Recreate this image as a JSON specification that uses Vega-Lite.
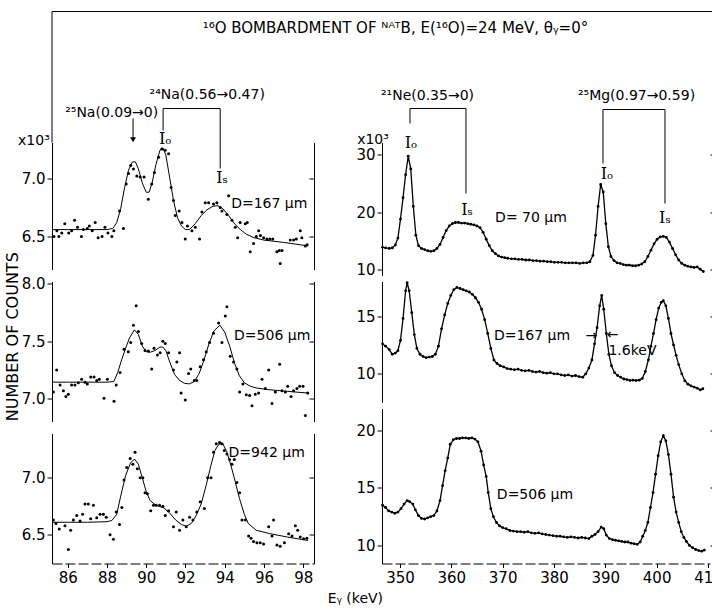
{
"$schema": "https://vega.github.io/schema/vega-lite/v6.json",
"padding": {"left": 5, "top": 10.5, "right": 0, "bottom": 0},
"config": {"view": {"stroke": null}, "axis": {"labelFont": "DejaVu Sans", "labelFontSize": 15, "labelColor": "black", "domainColor": "black", "tickColor": "black", "domainWidth": 1, "tickWidth": 1, "grid": false, "title": null, "labelPadding": 2}},
"datasets": {
"l1fit": [{"E":85.25,"v":6.56},{"E":86,"v":6.56},{"E":87,"v":6.56},{"E":88,"v":6.56},{"E":88.3,"v":6.57},{"E":88.5,"v":6.62},{"E":88.7,"v":6.74},{"E":88.9,"v":6.92},{"E":89.1,"v":7.07},{"E":89.3,"v":7.14},{"E":89.45,"v":7.14},{"E":89.6,"v":7.08},{"E":89.8,"v":6.96},{"E":90.0,"v":6.88},{"E":90.15,"v":6.88},{"E":90.3,"v":6.96},{"E":90.5,"v":7.12},{"E":90.7,"v":7.24},{"E":90.85,"v":7.26},{"E":91.0,"v":7.2},{"E":91.2,"v":7.0},{"E":91.4,"v":6.8},{"E":91.6,"v":6.66},{"E":91.8,"v":6.59},{"E":92.0,"v":6.56},{"E":92.2,"v":6.56},{"E":92.5,"v":6.61},{"E":92.8,"v":6.68},{"E":93.1,"v":6.73},{"E":93.4,"v":6.76},{"E":93.65,"v":6.765},{"E":93.9,"v":6.74},{"E":94.2,"v":6.68},{"E":94.5,"v":6.61},{"E":94.8,"v":6.56},{"E":95.1,"v":6.52},{"E":95.5,"v":6.49},{"E":96,"v":6.47},{"E":97,"v":6.45},{"E":98.25,"v":6.42}],
"l1pts": [{"E":85.3,"v":6.5},{"E":85.45,"v":6.55},{"E":85.55,"v":6.5},{"E":85.7,"v":6.53},{"E":85.85,"v":6.61},{"E":86.05,"v":6.53},{"E":86.2,"v":6.55},{"E":86.35,"v":6.64},{"E":86.5,"v":6.58},{"E":86.7,"v":6.5},{"E":86.8,"v":6.56},{"E":87.0,"v":6.57},{"E":87.1,"v":6.59},{"E":87.25,"v":6.55},{"E":87.4,"v":6.62},{"E":87.55,"v":6.49},{"E":87.75,"v":6.5},{"E":87.9,"v":6.58},{"E":88.05,"v":6.53},{"E":88.25,"v":6.5},{"E":88.35,"v":6.55},{"E":88.64,"v":6.72},{"E":88.84,"v":6.57},{"E":88.98,"v":6.95},{"E":89.1,"v":7.04},{"E":89.21,"v":7.11},{"E":89.35,"v":7.08},{"E":89.52,"v":7.02},{"E":89.69,"v":7.01},{"E":89.89,"v":7.01},{"E":90.11,"v":6.82},{"E":90.28,"v":6.95},{"E":90.42,"v":7.05},{"E":90.63,"v":7.18},{"E":90.8,"v":7.25},{"E":90.97,"v":7.24},{"E":91.14,"v":7.21},{"E":91.27,"v":6.92},{"E":91.39,"v":6.81},{"E":91.48,"v":6.68},{"E":91.68,"v":6.72},{"E":91.82,"v":6.62},{"E":91.99,"v":6.48},{"E":92.1,"v":6.59},{"E":92.33,"v":6.55},{"E":92.5,"v":6.58},{"E":92.72,"v":6.48},{"E":92.84,"v":6.71},{"E":93.01,"v":6.79},{"E":93.18,"v":6.79},{"E":93.43,"v":6.78},{"E":93.6,"v":6.79},{"E":93.77,"v":6.75},{"E":93.86,"v":6.72},{"E":94.11,"v":6.69},{"E":94.2,"v":6.85},{"E":94.37,"v":6.64},{"E":94.54,"v":6.58},{"E":94.66,"v":6.49},{"E":94.79,"v":6.62},{"E":95.05,"v":6.61},{"E":95.15,"v":6.62},{"E":95.3,"v":6.37},{"E":95.47,"v":6.44},{"E":95.61,"v":6.5},{"E":95.73,"v":6.55},{"E":95.82,"v":6.51},{"E":95.98,"v":6.49},{"E":96.15,"v":6.48},{"E":96.3,"v":6.48},{"E":96.45,"v":6.48},{"E":96.66,"v":6.37},{"E":96.78,"v":6.38},{"E":96.83,"v":6.27},{"E":96.92,"v":6.38},{"E":97.34,"v":6.47},{"E":97.51,"v":6.47},{"E":97.65,"v":6.48},{"E":97.85,"v":6.55},{"E":97.93,"v":6.49},{"E":98.11,"v":6.42},{"E":98.2,"v":6.43}],
"l2fit": [{"E":85.25,"v":7.145},{"E":86,"v":7.145},{"E":87,"v":7.145},{"E":88,"v":7.145},{"E":88.35,"v":7.15},{"E":88.55,"v":7.23},{"E":88.75,"v":7.34},{"E":88.95,"v":7.44},{"E":89.15,"v":7.53},{"E":89.4,"v":7.6},{"E":89.6,"v":7.56},{"E":89.8,"v":7.46},{"E":90.0,"v":7.41},{"E":90.2,"v":7.405},{"E":90.45,"v":7.42},{"E":90.7,"v":7.45},{"E":90.85,"v":7.45},{"E":91.0,"v":7.42},{"E":91.2,"v":7.32},{"E":91.45,"v":7.21},{"E":91.7,"v":7.16},{"E":91.95,"v":7.135},{"E":92.2,"v":7.13},{"E":92.45,"v":7.15},{"E":92.7,"v":7.22},{"E":92.95,"v":7.34},{"E":93.2,"v":7.48},{"E":93.45,"v":7.59},{"E":93.75,"v":7.64},{"E":94.0,"v":7.58},{"E":94.25,"v":7.46},{"E":94.5,"v":7.31},{"E":94.75,"v":7.2},{"E":95.0,"v":7.14},{"E":95.3,"v":7.11},{"E":95.6,"v":7.095},{"E":96.2,"v":7.08},{"E":97.2,"v":7.065},{"E":98.25,"v":7.05}],
"l2pts": [{"E":85.27,"v":7.06},{"E":85.44,"v":7.25},{"E":85.61,"v":7.12},{"E":85.78,"v":7.07},{"E":85.91,"v":7.02},{"E":86.03,"v":7.04},{"E":86.2,"v":7.12},{"E":86.37,"v":7.12},{"E":86.54,"v":7.14},{"E":86.71,"v":7.17},{"E":86.88,"v":7.145},{"E":87.0,"v":7.13},{"E":87.17,"v":7.19},{"E":87.34,"v":7.19},{"E":87.48,"v":7.16},{"E":87.61,"v":7.17},{"E":87.85,"v":7.006},{"E":88.02,"v":7.17},{"E":88.36,"v":6.98},{"E":88.47,"v":7.12},{"E":88.67,"v":7.23},{"E":88.87,"v":7.43},{"E":89.09,"v":7.41},{"E":89.21,"v":7.49},{"E":89.35,"v":7.64},{"E":89.49,"v":7.81},{"E":89.6,"v":7.586},{"E":89.77,"v":7.48},{"E":89.94,"v":7.42},{"E":90.11,"v":7.415},{"E":90.28,"v":7.26},{"E":90.4,"v":7.44},{"E":90.57,"v":7.38},{"E":90.71,"v":7.4},{"E":90.85,"v":7.5},{"E":90.97,"v":7.48},{"E":91.14,"v":7.4},{"E":91.39,"v":7.25},{"E":91.56,"v":7.32},{"E":91.7,"v":7.4},{"E":91.78,"v":7.05},{"E":91.99,"v":6.99},{"E":92.16,"v":7.22},{"E":92.27,"v":7.26},{"E":92.45,"v":7.16},{"E":92.58,"v":7.16},{"E":92.75,"v":7.28},{"E":92.92,"v":7.34},{"E":93.06,"v":7.41},{"E":93.23,"v":7.49},{"E":93.43,"v":7.57},{"E":93.69,"v":7.66},{"E":93.86,"v":7.49},{"E":94.03,"v":7.72},{"E":94.11,"v":7.8},{"E":94.28,"v":7.37},{"E":94.45,"v":7.32},{"E":94.62,"v":7.26},{"E":94.76,"v":7.06},{"E":94.93,"v":7.13},{"E":95.1,"v":7.035},{"E":95.27,"v":7.03},{"E":95.39,"v":6.94},{"E":95.56,"v":7.04},{"E":95.73,"v":7.05},{"E":95.9,"v":7.17},{"E":96.07,"v":7.09},{"E":96.24,"v":7.25},{"E":96.41,"v":6.96},{"E":96.58,"v":7.06},{"E":96.8,"v":7.3},{"E":96.92,"v":7.07},{"E":97.09,"v":7.06},{"E":97.21,"v":7.11},{"E":97.38,"v":7.02},{"E":97.51,"v":7.07},{"E":97.68,"v":7.09},{"E":97.82,"v":7.11},{"E":97.99,"v":7.11},{"E":98.11,"v":6.855},{"E":98.23,"v":7.05}],
"l3fit": [{"E":85.25,"v":6.61},{"E":86,"v":6.61},{"E":87,"v":6.61},{"E":88,"v":6.615},{"E":88.25,"v":6.625},{"E":88.5,"v":6.68},{"E":88.7,"v":6.84},{"E":88.95,"v":7.02},{"E":89.2,"v":7.13},{"E":89.4,"v":7.165},{"E":89.6,"v":7.12},{"E":89.8,"v":7.0},{"E":90.0,"v":6.88},{"E":90.2,"v":6.8},{"E":90.5,"v":6.76},{"E":90.9,"v":6.735},{"E":91.2,"v":6.69},{"E":91.5,"v":6.63},{"E":91.8,"v":6.59},{"E":92.05,"v":6.575},{"E":92.3,"v":6.6},{"E":92.55,"v":6.67},{"E":92.8,"v":6.77},{"E":93.05,"v":6.93},{"E":93.3,"v":7.11},{"E":93.5,"v":7.24},{"E":93.7,"v":7.295},{"E":93.9,"v":7.3},{"E":94.1,"v":7.23},{"E":94.3,"v":7.12},{"E":94.5,"v":6.99},{"E":94.75,"v":6.82},{"E":95.0,"v":6.68},{"E":95.2,"v":6.6},{"E":95.6,"v":6.54},{"E":96.3,"v":6.51},{"E":97.2,"v":6.48},{"E":98.25,"v":6.45}],
"l3pts": [{"E":85.27,"v":6.63},{"E":85.4,"v":6.6},{"E":85.57,"v":6.55},{"E":85.86,"v":6.58},{"E":86.03,"v":6.37},{"E":86.15,"v":6.54},{"E":86.29,"v":6.63},{"E":86.46,"v":6.67},{"E":86.63,"v":6.62},{"E":86.76,"v":6.68},{"E":86.88,"v":6.77},{"E":87.05,"v":6.77},{"E":87.17,"v":6.64},{"E":87.31,"v":6.76},{"E":87.48,"v":6.65},{"E":87.65,"v":6.68},{"E":87.82,"v":6.68},{"E":87.96,"v":6.655},{"E":88.16,"v":6.5},{"E":88.33,"v":6.46},{"E":88.47,"v":6.7},{"E":88.64,"v":6.59},{"E":88.76,"v":6.74},{"E":88.87,"v":6.98},{"E":89.01,"v":7.09},{"E":89.18,"v":7.17},{"E":89.32,"v":7.12},{"E":89.43,"v":7.225},{"E":89.55,"v":7.08},{"E":89.69,"v":7.0},{"E":89.83,"v":7.0},{"E":89.94,"v":6.87},{"E":90.06,"v":6.86},{"E":90.23,"v":6.71},{"E":90.37,"v":6.76},{"E":90.51,"v":6.76},{"E":90.68,"v":6.76},{"E":90.85,"v":6.75},{"E":90.97,"v":6.67},{"E":91.14,"v":6.71},{"E":91.39,"v":6.57},{"E":91.53,"v":6.7},{"E":91.7,"v":6.54},{"E":91.87,"v":6.63},{"E":92.04,"v":6.57},{"E":92.21,"v":6.655},{"E":92.38,"v":6.63},{"E":92.58,"v":6.7},{"E":92.75,"v":6.79},{"E":92.96,"v":6.73},{"E":93.13,"v":7.0},{"E":93.3,"v":7.0},{"E":93.43,"v":7.225},{"E":93.57,"v":7.3},{"E":93.74,"v":7.31},{"E":93.86,"v":7.3},{"E":93.98,"v":7.24},{"E":94.11,"v":7.21},{"E":94.25,"v":7.16},{"E":94.37,"v":7.12},{"E":94.49,"v":7.16},{"E":94.62,"v":6.96},{"E":94.76,"v":6.87},{"E":94.88,"v":6.63},{"E":95.05,"v":6.63},{"E":95.22,"v":6.49},{"E":95.34,"v":6.47},{"E":95.47,"v":6.44},{"E":95.64,"v":6.43},{"E":95.81,"v":6.43},{"E":95.98,"v":6.42},{"E":96.24,"v":6.57},{"E":96.41,"v":6.49},{"E":96.49,"v":6.63},{"E":96.66,"v":6.41},{"E":96.83,"v":6.4},{"E":97.04,"v":6.43},{"E":97.26,"v":6.51},{"E":97.43,"v":6.49},{"E":97.6,"v":6.58},{"E":97.72,"v":6.54},{"E":97.85,"v":6.48},{"E":98.02,"v":6.465},{"E":98.19,"v":6.47}],
"r1": [{"E":346.6,"v":13.9},{"E":347.2,"v":13.8},{"E":347.9,"v":13.7},{"E":348.5,"v":13.8},{"E":349.1,"v":14.3},{"E":349.6,"v":15.5},{"E":350.1,"v":18.8},{"E":350.6,"v":22.5},{"E":351.1,"v":26.5},{"E":351.6,"v":29.7},{"E":352.1,"v":27.5},{"E":352.6,"v":21.0},{"E":353.1,"v":16.0},{"E":353.6,"v":14.2},{"E":354.2,"v":13.7},{"E":354.8,"v":13.5},{"E":355.4,"v":13.3},{"E":356.0,"v":13.2},{"E":356.6,"v":13.3},{"E":357.2,"v":13.7},{"E":357.8,"v":14.4},{"E":358.4,"v":15.6},{"E":359.0,"v":16.8},{"E":359.6,"v":17.6},{"E":360.2,"v":18.0},{"E":360.8,"v":18.2},{"E":361.4,"v":18.2},{"E":362.0,"v":18.1},{"E":362.6,"v":18.1},{"E":363.2,"v":18.0},{"E":363.8,"v":17.9},{"E":364.4,"v":17.8},{"E":365.0,"v":17.6},{"E":365.6,"v":17.3},{"E":366.2,"v":16.5},{"E":366.8,"v":15.3},{"E":367.4,"v":14.2},{"E":368.0,"v":13.3},{"E":368.6,"v":12.8},{"E":369.2,"v":12.4},{"E":369.8,"v":12.2},{"E":370.4,"v":12.1},{"E":371.0,"v":12.0},{"E":371.7,"v":11.9},{"E":372.4,"v":11.9},{"E":373.1,"v":11.8},{"E":373.8,"v":11.8},{"E":374.5,"v":11.7},{"E":375.2,"v":11.7},{"E":375.9,"v":11.6},{"E":376.6,"v":11.6},{"E":377.3,"v":11.5},{"E":378.0,"v":11.5},{"E":378.7,"v":11.4},{"E":379.4,"v":11.4},{"E":380.1,"v":11.3},{"E":380.8,"v":11.3},{"E":381.5,"v":11.3},{"E":382.2,"v":11.2},{"E":382.9,"v":11.2},{"E":383.6,"v":11.2},{"E":384.3,"v":11.2},{"E":385.0,"v":11.1},{"E":385.7,"v":11.2},{"E":386.4,"v":11.2},{"E":387.0,"v":11.4},{"E":387.6,"v":12.5},{"E":388.1,"v":16.0},{"E":388.6,"v":21.0},{"E":389.1,"v":24.8},{"E":389.6,"v":23.5},{"E":390.1,"v":18.0},{"E":390.6,"v":14.0},{"E":391.1,"v":12.3},{"E":391.7,"v":11.6},{"E":392.3,"v":11.2},{"E":392.9,"v":11.1},{"E":393.5,"v":10.9},{"E":394.1,"v":10.8},{"E":394.7,"v":10.8},{"E":395.3,"v":10.7},{"E":395.9,"v":10.7},{"E":396.5,"v":10.8},{"E":397.1,"v":11.0},{"E":397.7,"v":11.4},{"E":398.3,"v":12.3},{"E":398.9,"v":13.4},{"E":399.5,"v":14.5},{"E":400.1,"v":15.3},{"E":400.7,"v":15.7},{"E":401.3,"v":15.8},{"E":401.9,"v":15.6},{"E":402.5,"v":14.8},{"E":403.1,"v":13.7},{"E":403.7,"v":12.6},{"E":404.3,"v":11.7},{"E":404.9,"v":11.1},{"E":405.5,"v":10.8},{"E":406.1,"v":10.6},{"E":406.7,"v":10.5},{"E":407.3,"v":10.4},{"E":407.9,"v":10.5},{"E":408.5,"v":10.1},{"E":409.1,"v":9.7}],
"r2": [{"E":346.6,"v":12.6},{"E":347.2,"v":12.4},{"E":347.9,"v":12.1},{"E":348.5,"v":11.7},{"E":349.1,"v":11.8},{"E":349.6,"v":12.0},{"E":350.1,"v":12.9},{"E":350.6,"v":14.8},{"E":351.1,"v":17.2},{"E":351.4,"v":17.9},{"E":351.8,"v":17.2},{"E":352.3,"v":15.3},{"E":352.8,"v":13.4},{"E":353.3,"v":12.2},{"E":353.9,"v":11.7},{"E":354.5,"v":11.5},{"E":355.1,"v":11.4},{"E":355.7,"v":11.45},{"E":356.3,"v":11.5},{"E":356.9,"v":11.7},{"E":357.5,"v":12.4},{"E":358.1,"v":13.9},{"E":358.7,"v":15.1},{"E":359.3,"v":16.1},{"E":359.9,"v":16.8},{"E":360.5,"v":17.3},{"E":361.1,"v":17.5},{"E":361.7,"v":17.4},{"E":362.3,"v":17.3},{"E":362.9,"v":17.2},{"E":363.5,"v":17.1},{"E":364.1,"v":16.9},{"E":364.7,"v":16.6},{"E":365.3,"v":16.2},{"E":365.9,"v":15.6},{"E":366.5,"v":14.7},{"E":367.1,"v":13.5},{"E":367.7,"v":12.2},{"E":368.3,"v":11.2},{"E":368.9,"v":10.9},{"E":369.5,"v":10.7},{"E":370.2,"v":10.6},{"E":370.9,"v":10.45},{"E":371.6,"v":10.4},{"E":372.3,"v":10.35},{"E":373.0,"v":10.4},{"E":373.7,"v":10.3},{"E":374.4,"v":10.25},{"E":375.1,"v":10.3},{"E":375.8,"v":10.2},{"E":376.5,"v":10.15},{"E":377.2,"v":10.2},{"E":377.9,"v":10.1},{"E":378.6,"v":10.05},{"E":379.3,"v":10.1},{"E":380.0,"v":10.0},{"E":380.7,"v":10.0},{"E":381.4,"v":9.9},{"E":382.1,"v":9.85},{"E":382.8,"v":9.9},{"E":383.5,"v":9.8},{"E":384.2,"v":9.85},{"E":384.9,"v":9.75},{"E":385.6,"v":9.7},{"E":386.2,"v":10.0},{"E":386.8,"v":10.5},{"E":387.4,"v":11.2},{"E":387.9,"v":12.6},{"E":388.4,"v":14.0},{"E":388.9,"v":15.9},{"E":389.3,"v":16.8},{"E":389.7,"v":15.6},{"E":390.2,"v":13.5},{"E":390.7,"v":11.7},{"E":391.2,"v":10.7},{"E":391.8,"v":10.1},{"E":392.4,"v":9.85},{"E":393.0,"v":9.7},{"E":393.6,"v":9.55},{"E":394.2,"v":9.5},{"E":394.8,"v":9.42},{"E":395.4,"v":9.45},{"E":396.0,"v":9.42},{"E":396.6,"v":9.45},{"E":397.2,"v":9.6},{"E":397.8,"v":10.2},{"E":398.4,"v":11.2},{"E":398.9,"v":12.4},{"E":399.4,"v":13.5},{"E":399.9,"v":14.7},{"E":400.4,"v":15.7},{"E":400.9,"v":16.2},{"E":401.3,"v":16.35},{"E":401.8,"v":15.9},{"E":402.3,"v":14.8},{"E":402.8,"v":13.5},{"E":403.3,"v":12.5},{"E":403.8,"v":11.6},{"E":404.3,"v":10.8},{"E":404.9,"v":10.0},{"E":405.5,"v":9.4},{"E":406.1,"v":9.1},{"E":406.7,"v":8.95},{"E":407.3,"v":8.85},{"E":407.9,"v":8.75},{"E":408.5,"v":8.6},{"E":409.0,"v":8.7}],
"r3": [{"E":346.6,"v":13.5},{"E":347.2,"v":13.3},{"E":347.8,"v":13.0},{"E":348.4,"v":12.9},{"E":349.0,"v":12.8},{"E":349.6,"v":12.9},{"E":350.2,"v":13.2},{"E":350.8,"v":13.6},{"E":351.4,"v":13.9},{"E":351.9,"v":13.8},{"E":352.5,"v":13.6},{"E":353.0,"v":13.1},{"E":353.6,"v":12.6},{"E":354.2,"v":12.35},{"E":354.8,"v":12.3},{"E":355.4,"v":12.4},{"E":356.0,"v":12.5},{"E":356.6,"v":12.6},{"E":357.2,"v":13.0},{"E":357.8,"v":13.9},{"E":358.3,"v":15.2},{"E":358.8,"v":16.5},{"E":359.3,"v":17.6},{"E":359.8,"v":18.8},{"E":360.4,"v":19.2},{"E":361.0,"v":19.3},{"E":361.6,"v":19.3},{"E":362.2,"v":19.35},{"E":362.8,"v":19.35},{"E":363.4,"v":19.3},{"E":364.0,"v":19.35},{"E":364.6,"v":19.25},{"E":365.2,"v":19.0},{"E":365.8,"v":18.2},{"E":366.3,"v":17.0},{"E":366.8,"v":16.0},{"E":367.2,"v":14.6},{"E":367.7,"v":13.2},{"E":368.2,"v":12.5},{"E":368.8,"v":12.0},{"E":369.4,"v":11.7},{"E":370.0,"v":11.55},{"E":370.7,"v":11.45},{"E":371.4,"v":11.3},{"E":372.1,"v":11.25},{"E":372.8,"v":11.2},{"E":373.5,"v":11.2},{"E":374.2,"v":11.15},{"E":374.9,"v":11.2},{"E":375.6,"v":11.1},{"E":376.3,"v":11.05},{"E":377.0,"v":11.1},{"E":377.7,"v":11.0},{"E":378.4,"v":10.95},{"E":379.1,"v":10.9},{"E":379.8,"v":10.85},{"E":380.5,"v":10.8},{"E":381.2,"v":10.8},{"E":381.9,"v":10.75},{"E":382.6,"v":10.7},{"E":383.3,"v":10.75},{"E":384.0,"v":10.7},{"E":384.7,"v":10.65},{"E":385.4,"v":10.7},{"E":386.1,"v":10.65},{"E":386.8,"v":10.6},{"E":387.4,"v":10.8},{"E":388.0,"v":10.95},{"E":388.6,"v":11.2},{"E":389.2,"v":11.6},{"E":389.7,"v":11.45},{"E":390.2,"v":10.9},{"E":390.8,"v":10.6},{"E":391.4,"v":10.5},{"E":392.0,"v":10.45},{"E":392.6,"v":10.4},{"E":393.2,"v":10.35},{"E":393.8,"v":10.3},{"E":394.4,"v":10.3},{"E":395.0,"v":10.2},{"E":395.6,"v":10.15},{"E":396.2,"v":10.1},{"E":396.8,"v":10.3},{"E":397.3,"v":10.8},{"E":397.8,"v":11.3},{"E":398.3,"v":12.0},{"E":398.8,"v":13.3},{"E":399.3,"v":14.6},{"E":399.8,"v":16.2},{"E":400.3,"v":17.8},{"E":400.8,"v":19.0},{"E":401.3,"v":19.55},{"E":401.8,"v":19.1},{"E":402.3,"v":17.9},{"E":402.8,"v":16.2},{"E":403.3,"v":14.2},{"E":403.8,"v":12.9},{"E":404.3,"v":12.0},{"E":404.8,"v":11.2},{"E":405.3,"v":10.7},{"E":405.8,"v":10.35},{"E":406.4,"v":10.0},{"E":407.0,"v":9.8},{"E":407.6,"v":9.65},{"E":408.2,"v":9.55},{"E":408.8,"v":9.5},{"E":409.3,"v":9.6}]
},
"bounds": "flush",
"spacing": 330,
"hconcat": [
{"bounds": "flush", "spacing": 12, "vconcat": [
 {"width": 262, "height": 127, "resolve": {"axis": {"y": "independent"}}, "layer": [
  {"data": {"name": "l1fit"}, "mark": {"type": "line", "color": "black", "strokeWidth": 1}, "encoding": {"x": {"field": "E", "type": "quantitative", "scale": {"domain": [85.2, 98.55], "nice": false, "zero": false}, "axis": null}, "y": {"field": "v", "type": "quantitative", "scale": {"domain": [6.218, 7.306], "nice": false, "zero": false}, "axis": {"orient": "left", "values": [6.5, 7.0], "format": ".1f", "tickSize": 5}}}},
  {"data": {"name": "l1pts"}, "mark": {"type": "circle", "color": "black", "size": 9, "opacity": 1}, "encoding": {"x": {"field": "E", "type": "quantitative", "scale": {"domain": [85.2, 98.55], "nice": false, "zero": false}, "axis": null}, "y": {"field": "v", "type": "quantitative", "scale": {"domain": [6.218, 7.306], "nice": false, "zero": false}, "axis": {"orient": "right", "values": [6.5, 7.0], "labels": false, "tickSize": -5}}}},
  {"data": {"values": [{"E": 85.2, "v": 8.428, "E2": 118.87, "v2": 8.428}, {"E": 85.2, "v": 8.428, "E2": 85.2, "v2": 7.306}, {"E": 90.86, "v": 7.597, "E2": 93.77, "v2": 7.597}, {"E": 90.86, "v": 7.597, "E2": 90.86, "v2": 7.409}, {"E": 93.77, "v": 7.597, "E2": 93.77, "v2": 7.083}, {"E": 89.33, "v": 7.512, "E2": 89.33, "v2": 7.34}]}, "mark": {"type": "rule", "color": "black", "strokeWidth": 1}, "encoding": {"x": {"field": "E", "type": "quantitative", "scale": {"domain": [85.2, 98.55], "nice": false, "zero": false}, "axis": null}, "x2": {"field": "E2"}, "y": {"field": "v", "type": "quantitative", "scale": {"domain": [6.218, 7.306], "nice": false, "zero": false}, "axis": null}, "y2": {"field": "v2"}}},
  {"data": {"values": [{"E": 89.33, "v": 7.33}]}, "mark": {"type": "point", "shape": "triangle-down", "filled": true, "color": "black", "size": 35, "opacity": 1}, "encoding": {"x": {"field": "E", "type": "quantitative", "scale": {"domain": [85.2, 98.55], "nice": false, "zero": false}, "axis": null}, "y": {"field": "v", "type": "quantitative", "scale": {"domain": [6.218, 7.306], "nice": false, "zero": false}, "axis": null}}},
  {"data": {"values": [{"E": 88.24, "v": 7.563, "t": "²⁵Na(0.09→0)"}, {"E": 93.11, "v": 7.709, "t": "²⁴Na(0.56→0.47)"}, {"E": 96.27, "v": 6.783, "t": "D=167 μm"}, {"E": 84.28, "v": 7.323, "t": "x10³"}]}, "mark": {"type": "text", "font": "DejaVu Sans", "fontSize": 14, "align": "center", "baseline": "middle", "color": "black"}, "encoding": {"x": {"field": "E", "type": "quantitative", "scale": {"domain": [85.2, 98.55], "nice": false, "zero": false}, "axis": null}, "y": {"field": "v", "type": "quantitative", "scale": {"domain": [6.218, 7.306], "nice": false, "zero": false}, "axis": null}, "text": {"field": "t"}}},
  {"data": {"values": [{"E": 102.7, "v": 8.291, "t": "¹⁶O BOMBARDMENT OF ᴺᴬᵀB, E(¹⁶O)=24 MeV, θᵧ=0°"}]}, "mark": {"type": "text", "font": "DejaVu Sans", "fontSize": 15, "align": "center", "baseline": "middle", "color": "black"}, "encoding": {"x": {"field": "E", "type": "quantitative", "scale": {"domain": [85.2, 98.55], "nice": false, "zero": false}, "axis": null}, "y": {"field": "v", "type": "quantitative", "scale": {"domain": [6.218, 7.306], "nice": false, "zero": false}, "axis": null}, "text": {"field": "t"}}},
  {"data": {"values": [{"E": 90.97, "v": 7.34, "t": "Iₒ"}, {"E": 93.87, "v": 7.0, "t": "Iₛ"}]}, "mark": {"type": "text", "font": "DejaVu Serif", "fontSize": 16, "align": "center", "baseline": "middle", "color": "black"}, "encoding": {"x": {"field": "E", "type": "quantitative", "scale": {"domain": [85.2, 98.55], "nice": false, "zero": false}, "axis": null}, "y": {"field": "v", "type": "quantitative", "scale": {"domain": [6.218, 7.306], "nice": false, "zero": false}, "axis": null}, "text": {"field": "t"}}}
 ]},
 {"width": 262, "height": 140, "resolve": {"axis": {"y": "independent"}}, "layer": [
  {"data": {"name": "l2fit"}, "mark": {"type": "line", "color": "black", "strokeWidth": 1}, "encoding": {"x": {"field": "E", "type": "quantitative", "scale": {"domain": [85.2, 98.55], "nice": false, "zero": false}, "axis": null}, "y": {"field": "v", "type": "quantitative", "scale": {"domain": [6.803, 8.02], "nice": false, "zero": false}, "axis": {"orient": "left", "values": [7.0, 7.5, 8.0], "format": ".1f", "tickSize": 5}}}},
  {"data": {"name": "l2pts"}, "mark": {"type": "circle", "color": "black", "size": 9, "opacity": 1}, "encoding": {"x": {"field": "E", "type": "quantitative", "scale": {"domain": [85.2, 98.55], "nice": false, "zero": false}, "axis": null}, "y": {"field": "v", "type": "quantitative", "scale": {"domain": [6.803, 8.02], "nice": false, "zero": false}, "axis": {"orient": "right", "values": [7.0, 7.5, 8.0], "labels": false, "tickSize": -5}}}},
  {"data": {"values": [{"E": 96.42, "v": 7.55, "t": "D=506 μm"}]}, "mark": {"type": "text", "font": "DejaVu Sans", "fontSize": 14, "align": "center", "baseline": "middle", "color": "black"}, "encoding": {"x": {"field": "E", "type": "quantitative", "scale": {"domain": [85.2, 98.55], "nice": false, "zero": false}, "axis": null}, "y": {"field": "v", "type": "quantitative", "scale": {"domain": [6.803, 8.02], "nice": false, "zero": false}, "axis": null}, "text": {"field": "t"}}},
  {"data": {"values": [{"E": 83.23, "v": 7.54, "t": "NUMBER OF COUNTS"}]}, "mark": {"type": "text", "font": "DejaVu Sans", "fontSize": 16, "angle": 270, "align": "center", "baseline": "middle", "color": "black"}, "encoding": {"x": {"field": "E", "type": "quantitative", "scale": {"domain": [85.2, 98.55], "nice": false, "zero": false}, "axis": null}, "y": {"field": "v", "type": "quantitative", "scale": {"domain": [6.803, 8.02], "nice": false, "zero": false}, "axis": null}, "text": {"field": "t"}}}
 ]},
 {"width": 262, "height": 130, "resolve": {"axis": {"y": "independent"}}, "layer": [
  {"data": {"name": "l3fit"}, "mark": {"type": "line", "color": "black", "strokeWidth": 1}, "encoding": {"x": {"field": "E", "type": "quantitative", "scale": {"domain": [85.2, 98.55], "nice": false, "zero": false}, "axis": {"values": [86, 88, 90, 92, 94, 96, 98], "format": "d", "tickSize": 4, "labelPadding": 3, "domainDash": [10, 3]}}, "y": {"field": "v", "type": "quantitative", "scale": {"domain": [6.248, 7.389], "nice": false, "zero": false}, "axis": {"orient": "left", "values": [6.5, 7.0], "format": ".1f", "tickSize": 5}}}},
  {"data": {"name": "l3pts"}, "mark": {"type": "circle", "color": "black", "size": 9, "opacity": 1}, "encoding": {"x": {"field": "E", "type": "quantitative", "scale": {"domain": [85.2, 98.55], "nice": false, "zero": false}, "axis": {"values": [86, 88, 90, 92, 94, 96, 98], "format": "d", "tickSize": 4, "labelPadding": 3, "domainDash": [10, 3]}}, "y": {"field": "v", "type": "quantitative", "scale": {"domain": [6.248, 7.389], "nice": false, "zero": false}, "axis": {"orient": "right", "values": [6.5, 7.0], "labels": false, "tickSize": -5}}}},
  {"data": {"values": [{"E": 96.14, "v": 7.22, "t": "D=942 μm"}, {"E": 100.66, "v": 5.94, "t": "Eᵧ (keV)"}]}, "mark": {"type": "text", "font": "DejaVu Sans", "fontSize": 14, "align": "center", "baseline": "middle", "color": "black"}, "encoding": {"x": {"field": "E", "type": "quantitative", "scale": {"domain": [85.2, 98.55], "nice": false, "zero": false}, "axis": {"values": [86, 88, 90, 92, 94, 96, 98], "format": "d", "tickSize": 4, "labelPadding": 3, "domainDash": [10, 3]}}, "y": {"field": "v", "type": "quantitative", "scale": {"domain": [6.248, 7.389], "nice": false, "zero": false}, "axis": null}, "text": {"field": "t"}}}
 ]}
]},
{"bounds": "flush", "spacing": 6, "vconcat": [
 {"width": 328, "height": 133, "resolve": {"axis": {"y": "independent"}}, "layer": [
  {"data": {"name": "r1"}, "mark": {"type": "line", "color": "black", "strokeWidth": 1.3}, "encoding": {"x": {"field": "E", "type": "quantitative", "scale": {"domain": [346.5, 410.4], "nice": false, "zero": false}, "axis": null}, "y": {"field": "v", "type": "quantitative", "scale": {"domain": [9.01, 32.08], "nice": false, "zero": false}, "axis": {"orient": "left", "values": [10, 20, 30], "format": "d", "tickSize": 5}}}},
  {"data": {"name": "r1"}, "mark": {"type": "circle", "color": "black", "size": 8, "opacity": 1}, "encoding": {"x": {"field": "E", "type": "quantitative", "scale": {"domain": [346.5, 410.4], "nice": false, "zero": false}, "axis": null}, "y": {"field": "v", "type": "quantitative", "scale": {"domain": [9.01, 32.08], "nice": false, "zero": false}, "axis": {"orient": "right", "values": [10, 20, 30], "labels": false, "domain": false, "tickSize": 5}}}},
  {"data": {"values": [{"E": 351.95, "v": 37.98, "E2": 362.86, "v2": 37.98}, {"E": 351.95, "v": 37.98, "E2": 351.95, "v2": 35.38}, {"E": 362.86, "v": 37.98, "E2": 362.86, "v2": 23.24}, {"E": 389.55, "v": 37.8, "E2": 401.63, "v2": 37.8}, {"E": 389.55, "v": 37.8, "E2": 389.55, "v2": 28.44}, {"E": 401.63, "v": 37.8, "E2": 401.63, "v2": 21.5}]}, "mark": {"type": "rule", "color": "black", "strokeWidth": 1}, "encoding": {"x": {"field": "E", "type": "quantitative", "scale": {"domain": [346.5, 410.4], "nice": false, "zero": false}, "axis": null}, "x2": {"field": "E2"}, "y": {"field": "v", "type": "quantitative", "scale": {"domain": [9.01, 32.08], "nice": false, "zero": false}, "axis": null}, "y2": {"field": "v2"}}},
  {"data": {"values": [{"E": 355.36, "v": 40.23, "t": "²¹Ne(0.35→0)"}, {"E": 396.08, "v": 40.23, "t": "²⁵Mg(0.97→0.59)"}, {"E": 375.53, "v": 18.9, "t": "D= 70 μm"}, {"E": 344.75, "v": 32.43, "t": "x10³"}]}, "mark": {"type": "text", "font": "DejaVu Sans", "fontSize": 14, "align": "center", "baseline": "middle", "color": "black"}, "encoding": {"x": {"field": "E", "type": "quantitative", "scale": {"domain": [346.5, 410.4], "nice": false, "zero": false}, "axis": null}, "y": {"field": "v", "type": "quantitative", "scale": {"domain": [9.01, 32.08], "nice": false, "zero": false}, "axis": null}, "text": {"field": "t"}}},
  {"data": {"values": [{"E": 352.15, "v": 32.08, "t": "Iₒ"}, {"E": 363.06, "v": 20.29, "t": "Iₛ"}, {"E": 390.33, "v": 26.7, "t": "Iₒ"}, {"E": 401.63, "v": 18.9, "t": "Iₛ"}]}, "mark": {"type": "text", "font": "DejaVu Serif", "fontSize": 16, "align": "center", "baseline": "middle", "color": "black"}, "encoding": {"x": {"field": "E", "type": "quantitative", "scale": {"domain": [346.5, 410.4], "nice": false, "zero": false}, "axis": null}, "y": {"field": "v", "type": "quantitative", "scale": {"domain": [9.01, 32.08], "nice": false, "zero": false}, "axis": null}, "text": {"field": "t"}}}
 ]},
 {"width": 328, "height": 121, "resolve": {"axis": {"y": "independent"}}, "layer": [
  {"data": {"name": "r2"}, "mark": {"type": "line", "color": "black", "strokeWidth": 1.3}, "encoding": {"x": {"field": "E", "type": "quantitative", "scale": {"domain": [346.5, 410.4], "nice": false, "zero": false}, "axis": null}, "y": {"field": "v", "type": "quantitative", "scale": {"domain": [7.51, 18.01], "nice": false, "zero": false}, "axis": {"orient": "left", "values": [10, 15], "format": "d", "tickSize": 5}}}},
  {"data": {"name": "r2"}, "mark": {"type": "circle", "color": "black", "size": 8, "opacity": 1}, "encoding": {"x": {"field": "E", "type": "quantitative", "scale": {"domain": [346.5, 410.4], "nice": false, "zero": false}, "axis": null}, "y": {"field": "v", "type": "quantitative", "scale": {"domain": [7.51, 18.01], "nice": false, "zero": false}, "axis": {"orient": "right", "values": [10, 15], "labels": false, "domain": false, "tickSize": 5}}}},
  {"data": {"values": [{"E": 375.72, "v": 13.32, "t": "D=167 μm"}, {"E": 387.31, "v": 13.32, "t": "→"}, {"E": 391.41, "v": 13.4, "t": "←"}, {"E": 395.3, "v": 11.95, "t": "1.6keV"}]}, "mark": {"type": "text", "font": "DejaVu Sans", "fontSize": 14, "align": "center", "baseline": "middle", "color": "black"}, "encoding": {"x": {"field": "E", "type": "quantitative", "scale": {"domain": [346.5, 410.4], "nice": false, "zero": false}, "axis": null}, "y": {"field": "v", "type": "quantitative", "scale": {"domain": [7.51, 18.01], "nice": false, "zero": false}, "axis": null}, "text": {"field": "t"}}}
 ]},
 {"width": 328, "height": 155, "resolve": {"axis": {"y": "independent"}}, "layer": [
  {"data": {"name": "r3"}, "mark": {"type": "line", "color": "black", "strokeWidth": 1.3}, "encoding": {"x": {"field": "E", "type": "quantitative", "scale": {"domain": [346.5, 410.4], "nice": false, "zero": false}, "axis": {"values": [350, 360, 370, 380, 390, 400, 410], "format": "d", "tickSize": 4, "labelPadding": 3, "domainDash": [10, 3]}}, "y": {"field": "v", "type": "quantitative", "scale": {"domain": [8.43, 21.91], "nice": false, "zero": false}, "axis": {"orient": "left", "values": [10, 15, 20], "format": "d", "tickSize": 5}}}},
  {"data": {"name": "r3"}, "mark": {"type": "circle", "color": "black", "size": 8, "opacity": 1}, "encoding": {"x": {"field": "E", "type": "quantitative", "scale": {"domain": [346.5, 410.4], "nice": false, "zero": false}, "axis": {"values": [350, 360, 370, 380, 390, 400, 410], "format": "d", "tickSize": 4, "labelPadding": 3, "domainDash": [10, 3]}}, "y": {"field": "v", "type": "quantitative", "scale": {"domain": [8.43, 21.91], "nice": false, "zero": false}, "axis": {"orient": "right", "values": [10, 15, 20], "labels": false, "domain": false, "tickSize": 5}}}},
  {"data": {"values": [{"E": 376.3, "v": 14.43, "t": "D=506 μm"}]}, "mark": {"type": "text", "font": "DejaVu Sans", "fontSize": 14, "align": "center", "baseline": "middle", "color": "black"}, "encoding": {"x": {"field": "E", "type": "quantitative", "scale": {"domain": [346.5, 410.4], "nice": false, "zero": false}, "axis": {"values": [350, 360, 370, 380, 390, 400, 410], "format": "d", "tickSize": 4, "labelPadding": 3, "domainDash": [10, 3]}}, "y": {"field": "v", "type": "quantitative", "scale": {"domain": [8.43, 21.91], "nice": false, "zero": false}, "axis": null}, "text": {"field": "t"}}}
 ]}
]}
]
}
